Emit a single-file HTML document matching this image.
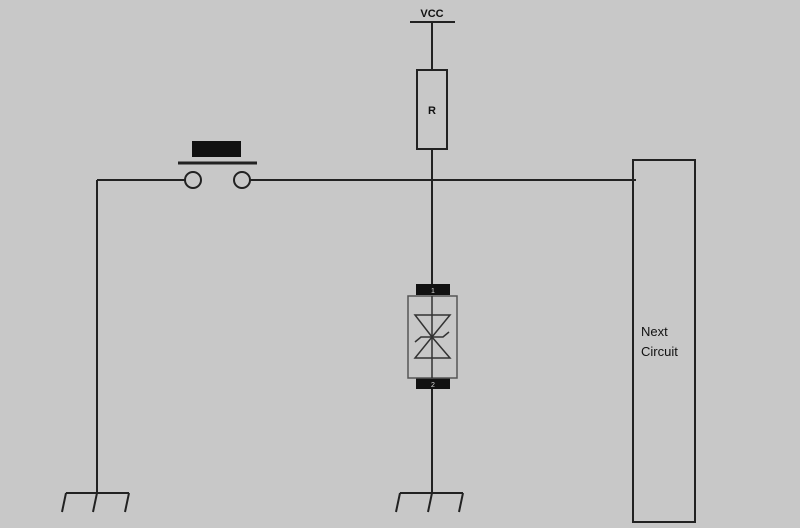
<!DOCTYPE html>
<html><head><style>body{margin:0;background:#c8c8c8}</style></head><body>
<svg width="800" height="528" viewBox="0 0 800 528" xmlns="http://www.w3.org/2000/svg" style="display:block">
<rect width="800" height="528" fill="#c8c8c8"/>
<g stroke="#222" stroke-width="2" fill="none">
<line x1="410" y1="22" x2="455" y2="22"/>
<line x1="432" y1="22" x2="432" y2="70"/>
<rect x="417" y="70" width="30" height="79"/>
<line x1="432" y1="149" x2="432" y2="284"/>
<line x1="432" y1="389" x2="432" y2="493"/>
<line x1="97" y1="180" x2="185" y2="180"/>
<line x1="250" y1="180" x2="636" y2="180"/>
<line x1="97" y1="180" x2="97" y2="493"/>
<line x1="178" y1="163" x2="257" y2="163" stroke-width="3"/>
<circle cx="193" cy="180" r="8"/>
<circle cx="242" cy="180" r="8"/>
<line x1="66" y1="493" x2="129" y2="493"/>
<line x1="66" y1="493" x2="62" y2="512"/>
<line x1="97" y1="493" x2="93" y2="512"/>
<line x1="129" y1="493" x2="125" y2="512"/>
<line x1="400" y1="493" x2="463" y2="493"/>
<line x1="400" y1="493" x2="396" y2="512"/>
<line x1="432" y1="493" x2="428" y2="512"/>
<line x1="463" y1="493" x2="459" y2="512"/>
<rect x="633" y="160" width="62" height="362"/>
</g>
<rect x="192" y="141" width="49" height="16" fill="#111"/>
<rect x="416" y="284" width="34" height="11" fill="#111"/>
<rect x="416" y="378" width="34" height="11" fill="#111"/>
<g stroke="#555" stroke-width="1.5" fill="none">
<rect x="408" y="296" width="49" height="82" fill="#c8c8c8"/>
<line x1="432" y1="296" x2="432" y2="378" stroke="#333"/>
<polygon points="415,315 450,315 432,337 415,358 450,358 432,337" stroke="#333"/>
<polyline points="415,342 421,337 443,337 449,332" stroke="#333"/>
</g>
<g font-family="Liberation Sans, sans-serif" fill="#111">
<text x="432" y="17" font-size="11" font-weight="bold" text-anchor="middle">VCC</text>
<text x="432" y="114" font-size="11" font-weight="bold" text-anchor="middle">R</text>
<text x="433" y="293" font-size="7" fill="#ddd" text-anchor="middle">1</text>
<text x="433" y="387" font-size="7" fill="#ddd" text-anchor="middle">2</text>
<text x="641" y="336" font-size="13">Next</text>
<text x="641" y="356" font-size="13">Circuit</text>
</g>
</svg>
</body></html>
